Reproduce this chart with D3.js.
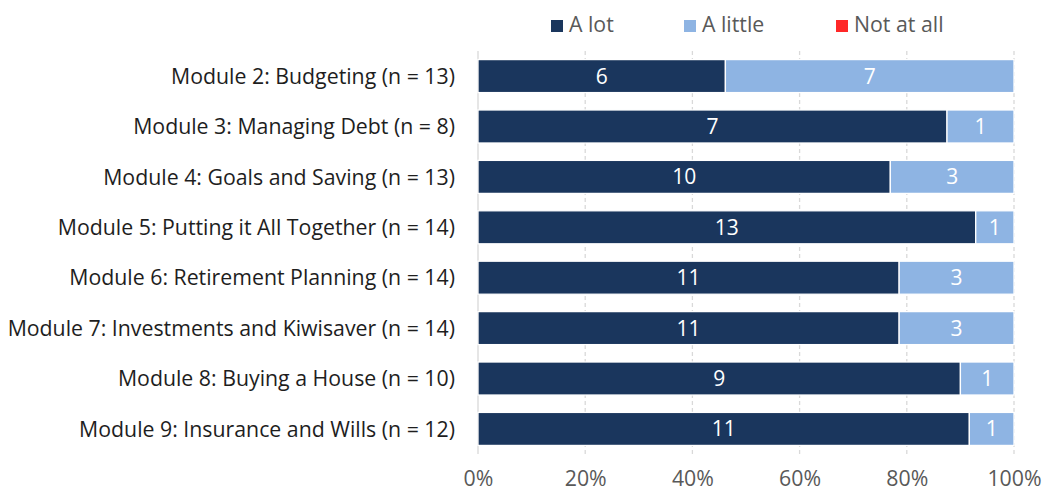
<!DOCTYPE html>
<html>
<head>
<meta charset="utf-8">
<script src="https://cdn.jsdelivr.net/npm/d3@7"></script>
<style>
  body { margin: 0; background: #fff; }
  svg { display: block; }
  text { font-family: "Open Sans", "Lato", sans-serif; }
</style>
</head>
<body>
<svg id="chart" width="1043" height="492"></svg>
<script>
// Survey responses per module: how much each module helped
const modules = [
  "Module 2: Budgeting (n = 13)",
  "Module 3: Managing Debt (n = 8)",
  "Module 4: Goals and Saving (n = 13)",
  "Module 5: Putting it All Together (n = 14)",
  "Module 6: Retirement Planning (n = 14)",
  "Module 7: Investments and Kiwisaver (n = 14)",
  "Module 8: Buying a House (n = 10)",
  "Module 9: Insurance and Wills (n = 12)"
];
const aLot     = [6, 7, 10, 13, 11, 11, 9, 11];
const aLittle  = [7, 1, 3, 1, 3, 3, 1, 1];
const notAtAll = [0, 0, 0, 0, 0, 0, 0, 0];
const seriesNames = ["A lot", "A little", "Not at all"];
const seriesColors = ["#1a365d", "#8eb4e3", "#ff2828"];
const tickValues = [0, 0.2, 0.4, 0.6, 0.8, 1];

const svg = d3.select("#chart");
const plot = { left: 478, right: 1014, top: 51, bottom: 454 };

const x = d3.scaleLinear().domain([0, 1]).range([plot.left, plot.right]);
const y = d3.scaleBand().domain(modules)
  .range([plot.top, plot.bottom]).paddingInner(0.345).paddingOuter(0.17);

// Gridlines (dashed)
svg.append("g").selectAll("line")
  .data(tickValues.slice(1))
  .join("line")
  .attr("x1", d => x(d)).attr("x2", d => x(d))
  .attr("y1", plot.top).attr("y2", plot.bottom)
  .attr("stroke", "#d9d9d9").attr("stroke-width", 1.3)
  .attr("stroke-dasharray", "4,3");

// Category axis line
svg.append("line")
  .attr("x1", x(0)).attr("x2", x(0))
  .attr("y1", plot.top).attr("y2", plot.bottom)
  .attr("stroke", "#d9d9d9").attr("stroke-width", 1.3);

// Stack as shares of each module's total
const rows = modules.map((m, i) => {
  const total = aLot[i] + aLittle[i] + notAtAll[i];
  return { module: m, counts: [aLot[i], aLittle[i], notAtAll[i]], total };
});
const stackData = rows.map(r => {
  const o = { module: r.module };
  seriesNames.forEach((s, k) => { o[s] = r.counts[k] / r.total; o[s + "_n"] = r.counts[k]; });
  return o;
});
const stack = d3.stack().keys(seriesNames);
const layers = stack(stackData);

const groups = svg.append("g").selectAll("g")
  .data(layers)
  .join("g")
  .attr("fill", (d, i) => seriesColors[i]);

groups.selectAll("rect")
  .data(d => d.map(v => ({ v, key: d.key })))
  .join("rect")
  .attr("x", d => x(d.v[0]))
  .attr("width", d => x(d.v[1]) - x(d.v[0]))
  .attr("y", d => y(d.v.data.module))
  .attr("height", y.bandwidth())
  .attr("stroke", "#fff").attr("stroke-width", 1.3);

// Segment count labels
groups.selectAll("text")
  .data(d => d.map(v => ({ v, key: d.key })).filter(d => d.v.data[d.key + "_n"] > 0))
  .join("text")
  .attr("x", d => (x(d.v[0]) + x(d.v[1])) / 2)
  .attr("y", d => y(d.v.data.module) + y.bandwidth() / 2)
  .attr("dy", "0.36em")
  .attr("text-anchor", "middle")
  .attr("fill", "#fff")
  .attr("font-size", 21)
  .text(d => d.v.data[d.key + "_n"]);

// Category labels
svg.append("g").selectAll("text")
  .data(modules)
  .join("text")
  .attr("x", 455)
  .attr("y", d => y(d) + y.bandwidth() / 2)
  .attr("dy", "0.36em")
  .attr("text-anchor", "end")
  .attr("fill", "#1e1e1e")
  .attr("font-size", 21.3)
  .text(d => d);

// Percentage axis
const xAxis = d3.axisBottom(x).tickValues(tickValues).tickFormat(d3.format(".0%")).tickSize(0).tickPadding(0);
const ax = svg.append("g").attr("transform", "translate(0,470)").call(xAxis);
ax.select(".domain").remove();
ax.selectAll("text")
  .attr("dy", null)
  .attr("y", 16)
  .attr("font-size", 21.3)
  .attr("fill", "#595959")
  .attr("font-family", "'Open Sans', Lato, sans-serif");

// Legend
const legendX = [551, 684, 836];
const legend = svg.append("g").selectAll("g")
  .data(seriesNames)
  .join("g")
  .attr("transform", (d, i) => `translate(${legendX[i]},0)`);
legend.append("rect")
  .attr("x", 0).attr("y", 20).attr("width", 12).attr("height", 12)
  .attr("fill", (d, i) => seriesColors[i]);
legend.append("text")
  .attr("x", 18).attr("y", 32)
  .attr("font-size", 21.3).attr("fill", "#595959")
  .text(d => d);
</script>
</body>
</html>
